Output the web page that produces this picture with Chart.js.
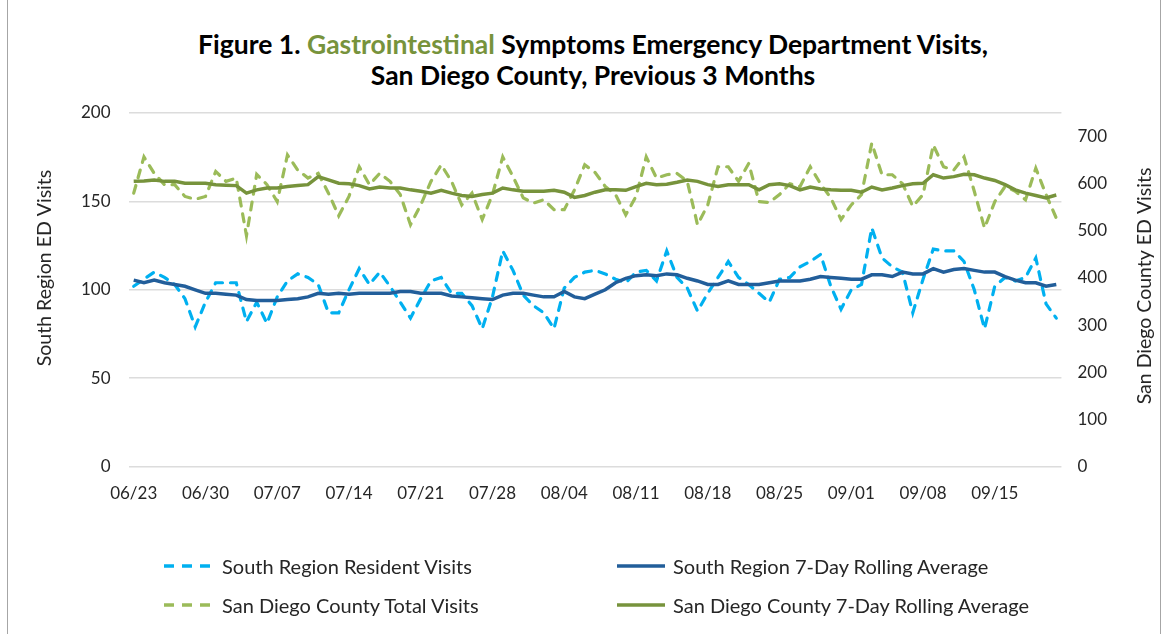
<!DOCTYPE html>
<html>
<head>
<meta charset="utf-8">
<script src="https://cdn.jsdelivr.net/npm/chart.js@4"></script>
<style>
  html, body { margin: 0; padding: 0; background: #fff; }
  body { width: 1168px; height: 634px; position: relative; overflow: hidden; font-family: Lato, "Open Sans", sans-serif; color: #262626; }
  #frame { position: absolute; left: 7px; top: -2px; width: 1152px; height: 640px; border-left: 1px solid #a6a6a6; border-right: 1px solid #a6a6a6; }
  #title { position: absolute; left: 0; top: 29px; width: 1186px; text-align: center; font-weight: bold; font-size: 26.5px; line-height: 31px; color: #000; }
  #title .gi { color: #77933c; }
  #wrap { position: absolute; left: 0; top: 0; width: 1168px; height: 634px; }
  .leg { position: absolute; font-size: 20px; line-height: 24px; white-space: nowrap; }
  .leg svg { position: absolute; left: 0; top: 6px; }
  .leg span { position: absolute; top: 0; }
</style>
</head>
<body>
<div id="frame"></div>
<div id="title">Figure 1. <span class="gi">Gastrointestinal</span> Symptoms Emergency Department Visits,<br>San Diego County, Previous 3 Months</div>
<div id="wrap"><canvas id="chart"></canvas></div>

<div class="leg" style="left:163px; top:554px;">
  <svg width="50" height="12"><line x1="1" y1="6" x2="48" y2="6" stroke="#00b0f0" stroke-width="3.5" stroke-dasharray="10 8"/></svg>
  <span style="left:59px;">South Region Resident Visits</span>
</div>
<div class="leg" style="left:617px; top:554px;">
  <svg width="50" height="12"><line x1="0" y1="6" x2="48" y2="6" stroke="#225e9a" stroke-width="3.5"/></svg>
  <span style="left:56px;">South Region 7-Day Rolling Average</span>
</div>
<div class="leg" style="left:163px; top:593px;">
  <svg width="50" height="12"><line x1="1" y1="6" x2="48" y2="6" stroke="#9bbb59" stroke-width="3.5" stroke-dasharray="10 8"/></svg>
  <span style="left:59px;">San Diego County Total Visits</span>
</div>
<div class="leg" style="left:617px; top:593px;">
  <svg width="50" height="12"><line x1="0" y1="6" x2="48" y2="6" stroke="#77933c" stroke-width="3.5"/></svg>
  <span style="left:56px;">San Diego County 7-Day Rolling Average</span>
</div>

<script>
// daily data, 06/23 .. 09/21
const startDate = Date.UTC(2024, 5, 23);
const dayCount = 91;
const tickEvery = 7;

const southVisits = [
  102, 106, 110, 107, 103, 95, 79, 93, 104, 104, 104, 82, 93, 81, 96, 105, 109, 107, 103, 87,
  87, 100, 112, 103, 110, 102, 93, 84, 95, 105, 107, 98, 98, 91, 78, 96, 122, 111, 97, 91,
  87, 78, 101, 107, 110, 111, 109, 106, 104, 110, 111, 105, 122, 107, 101, 88, 98, 107, 116, 107,
  103, 98, 93, 106, 107, 113, 116, 120, 102, 89, 100, 103, 135, 118, 113, 110, 87, 106, 123, 122,
  122, 116, 100, 78, 102, 107, 105, 107, 118, 92, 84
];
const southAvg = [
  105.5, 104, 105.5, 104, 103, 102, 100, 98, 98, 97.5, 97, 94.5, 94, 94, 94, 94.5, 95, 96, 98, 97.5,
  98, 97.5, 98, 98, 98, 98, 99, 99, 98, 98, 98, 96.5, 96, 95.5, 95, 94.5, 97, 98, 98, 97,
  96, 96, 99, 96, 95, 97.5, 100, 104, 106.5, 108, 108.5, 108, 109, 108.5, 106.5, 105, 103, 103, 105, 103,
  103, 103, 104, 105, 105, 105, 106, 107.5, 107, 106.5, 106, 106, 108.5, 108.5, 107.5, 110, 109, 109, 112, 110,
  111.5, 112, 111, 110, 110, 107.5, 105.5, 104, 104, 102, 103
];
const countyVisits = [
  580, 657, 622, 598, 598, 573, 567, 573, 626, 605, 612, 490, 620, 598, 562, 661, 629, 612, 622, 580,
  532, 573, 636, 598, 622, 605, 577, 513, 555, 605, 640, 605, 555, 580, 524, 577, 657, 615, 570, 559,
  566, 545, 545, 587, 640, 624, 594, 577, 534, 573, 657, 612, 619, 622, 605, 513, 555, 636, 636, 605,
  643, 562, 560, 577, 600, 594, 636, 600, 570, 524, 555, 577, 686, 619, 619, 600, 552, 577, 682, 636,
  629, 657, 584, 506, 562, 594, 584, 566, 633, 577, 527
];
const countyAvg = [
  605, 606, 608, 605, 605, 601, 601, 601, 598, 597, 596, 580, 587, 591, 591, 594, 596, 598, 615, 608,
  601, 600, 596, 589, 593, 591, 591, 587, 584, 580, 586, 580, 575, 573, 577, 580, 591, 587, 584, 584,
  584, 586, 582, 571, 575, 582, 587, 587, 586, 594, 601, 598, 599, 603, 608, 605, 598, 594, 598, 598,
  598, 587, 598, 600, 596, 587, 593, 589, 587, 586, 586, 582, 593, 587, 591, 596, 600, 601, 619, 612,
  615, 620, 619, 612, 607, 598, 587, 580, 575, 570, 576
];

const leftTitle = 'South Region ED Visits';
const rightTitle = 'San Diego County ED Visits';

const dates = [];
for (let i = 0; i < dayCount; i++) {
  const d = new Date(startDate + i * 86400000);
  dates.push(String(d.getUTCMonth() + 1).padStart(2, '0') + '/' + String(d.getUTCDate()).padStart(2, '0'));
}
const pts = arr => arr.map((v, i) => ({ x: i, y: v }));

// axis titles both read bottom-to-top, so draw them ourselves
function drawVertical(ctx, text, x, y) {
  ctx.save();
  ctx.fillStyle = '#262626';
  ctx.font = '19.5px Lato';
  ctx.textAlign = 'center';
  ctx.textBaseline = 'middle';
  ctx.translate(x, y);
  ctx.rotate(-Math.PI / 2);
  ctx.fillText(text, 0, 0);
  ctx.restore();
}
const axisTitles = {
  id: 'axisTitles',
  afterDraw(chart) {
    drawVertical(chart.ctx, leftTitle, 45, 268);
    drawVertical(chart.ctx, rightTitle, 1145, 286);
  }
};

const tickFont = { family: 'Lato', size: 17 };

new Chart(document.getElementById('chart'), {
  type: 'line',
  data: {
    datasets: [
      { label: 'South Region Resident Visits', data: pts(southVisits), yAxisID: 'y',
        borderColor: '#00b0f0', borderWidth: 3.2, borderDash: [8, 8], borderCapStyle: 'round', order: 4 },
      { label: 'South Region 7-Day Rolling Average', data: pts(southAvg), yAxisID: 'y',
        borderColor: '#225e9a', borderWidth: 3.5, order: 3 },
      { label: 'San Diego County Total Visits', data: pts(countyVisits), yAxisID: 'y2',
        borderColor: '#9bbb59', borderWidth: 3.2, borderDash: [8, 8], borderCapStyle: 'round', order: 2 },
      { label: 'San Diego County 7-Day Rolling Average', data: pts(countyAvg), yAxisID: 'y2',
        borderColor: '#77933c', borderWidth: 3.5, order: 1 }
    ]
  },
  options: {
    responsive: true,
    maintainAspectRatio: false,
    animation: false,
    elements: { point: { radius: 0 }, line: { tension: 0, fill: false } },
    layout: { padding: { top: 113, bottom: 121, left: 63, right: 53 } },
    plugins: { legend: { display: false }, tooltip: { enabled: false }, title: { display: false } },
    scales: {
      x: {
        type: 'linear',
        min: -0.5,
        max: dayCount - 0.5,
        afterBuildTicks: scale => {
          const t = [];
          for (let i = 0; i < dayCount; i += tickEvery) t.push({ value: i });
          scale.ticks = t;
        },
        grid: { display: false },
        border: { display: false },
        ticks: { color: '#262626', font: tickFont, padding: 9, maxRotation: 0, autoSkip: false,
          callback: v => dates[v] }
      },
      y: {
        position: 'left',
        min: 0, max: 200,
        grid: { color: '#dcdcdc', lineWidth: 1.5, drawTicks: false },
        border: { display: false },
        ticks: { stepSize: 50, color: '#262626', font: tickFont, padding: 18 }
      },
      y2: {
        position: 'right',
        min: 0, max: 750,
        grid: { display: false },
        border: { display: false },
        ticks: { stepSize: 100, color: '#262626', font: tickFont, padding: 8,
          callback: v => (v > 700 ? null : v) }
      }
    }
  },
  plugins: [axisTitles]
});
</script>
</body>
</html>
